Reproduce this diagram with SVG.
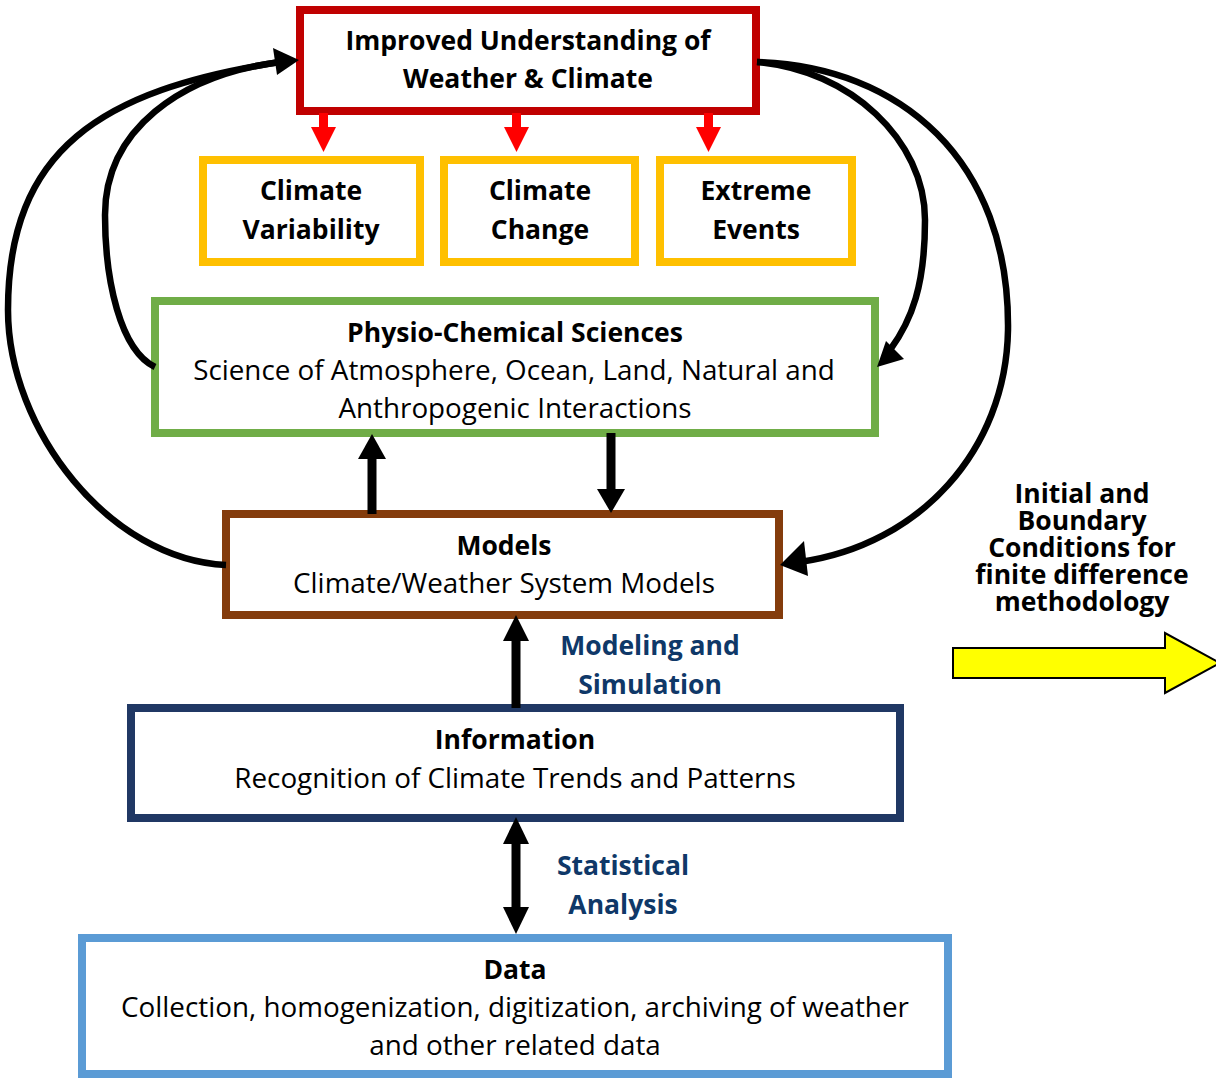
<svg xmlns="http://www.w3.org/2000/svg" width="1216" height="1079" viewBox="0 0 1216 1079">
<style>
text{font-family:"Open Sans",Lato,"DejaVu Sans",sans-serif;text-anchor:middle;fill:#000}
.t{font-size:27.8px}
.tb{font-size:26.5px;font-weight:bold}
.lbl{font-weight:bold;font-size:26.5px;fill:#0F3868}
.box{fill:#fff;stroke-width:8}
.curve{fill:none;stroke:#000;stroke-width:6.5}
.shaft{stroke:#000;stroke-width:9}
.side{font-weight:bold;font-size:26.5px}
</style>
<rect width="1216" height="1079" fill="#fff"/>

<g id="understanding">
<rect class="box" x="300" y="10" width="456" height="101" stroke="#C00000"/>
<text class="tb" x="528" y="50">Improved Understanding of</text>
<text class="tb" x="528" y="88">Weather &amp; Climate</text>
</g>

<g id="variability">
<rect class="box" x="203" y="160" width="217" height="102" stroke="#FFC000"/>
<text class="tb" x="311" y="200">Climate</text>
<text class="tb" x="311" y="239">Variability</text>
</g>
<g id="change">
<rect class="box" x="444" y="160" width="191" height="102" stroke="#FFC000"/>
<text class="tb" x="540" y="200">Climate</text>
<text class="tb" x="540" y="239">Change</text>
</g>
<g id="extreme">
<rect class="box" x="660" y="160" width="192" height="102" stroke="#FFC000"/>
<text class="tb" x="756" y="200">Extreme</text>
<text class="tb" x="756" y="239">Events</text>
</g>

<g id="physio">
<rect class="box" x="155" y="301" width="720" height="132" stroke="#70AD47"/>
<text class="tb" x="515" y="342">Physio-Chemical Sciences</text>
<text class="t" x="514" y="380">Science of Atmosphere, Ocean, Land, Natural and</text>
<text class="t" x="515" y="418">Anthropogenic Interactions</text>
</g>

<g id="models">
<rect class="box" x="226" y="514" width="553" height="101" stroke="#843C0C"/>
<text class="tb" x="504" y="555">Models</text>
<text class="t" x="504" y="593">Climate/Weather System Models</text>
</g>

<g id="information">
<rect class="box" x="131" y="708" width="769" height="110" stroke="#203864"/>
<text class="tb" x="515" y="749">Information</text>
<text class="t" x="515" y="788">Recognition of Climate Trends and Patterns</text>
</g>

<g id="data">
<rect class="box" x="82" y="938" width="866" height="136" stroke="#5B9BD5"/>
<text class="tb" x="515" y="979">Data</text>
<text class="t" x="515" y="1017">Collection, homogenization, digitization, archiving of weather</text>
<text class="t" x="515" y="1055">and other related data</text>
</g>

<g id="connectors">
<g fill="#FF0000" stroke="none">
<rect x="319" y="113" width="9" height="15"/>
<polygon points="311,127 336,127 323.5,152"/>
<rect x="512" y="113" width="9" height="15"/>
<polygon points="504,127 529,127 516.5,152"/>
<rect x="704" y="113" width="9" height="15"/>
<polygon points="696,127 721,127 708.5,152"/>
</g>
<path class="curve" d="M226,565 C110,560 8,430 8,310 C8,150 100,90 280,62"/>
<path class="curve" d="M155,367 C120,350 105,280 105,215 C105,130 180,75 280,62"/>
<polygon points="299,60 273,48 277,75" fill="#000"/>
<path class="curve" d="M757,62 C850,70 925,140 925,220 C925,285 912,320 890,350"/>
<polygon points="877,367 886,341 904,359" fill="#000"/>
<path class="curve" d="M757,62 C900,66 1010,160 1008,330 C1006,450 920,545 800,562"/>
<polygon points="780,565 804,541 808,576" fill="#000"/>
<line class="shaft" x1="372" y1="514" x2="372" y2="455"/>
<polygon points="372,434 358,459 386,459" fill="#000"/>
<line class="shaft" x1="611" y1="433" x2="611" y2="492"/>
<polygon points="611,513 597,489 625,489" fill="#000"/>
<line class="shaft" x1="516" y1="708" x2="516" y2="638"/>
<polygon points="516,615 503,641 529,641" fill="#000"/>
<line class="shaft" x1="516" y1="840" x2="516" y2="910"/>
<polygon points="516,817 503,844 529,844" fill="#000"/>
<polygon points="516,934 503,907 529,907" fill="#000"/>
</g>

<g id="labels">
<text class="lbl" x="650" y="655">Modeling and</text>
<text class="lbl" x="650" y="694">Simulation</text>
<text class="lbl" x="623" y="875">Statistical</text>
<text class="lbl" x="623" y="914">Analysis</text>
</g>

<g id="boundary">
<text class="side" x="1082" y="503">Initial and</text>
<text class="side" x="1082" y="530">Boundary</text>
<text class="side" x="1082" y="557">Conditions for</text>
<text class="side" x="1082" y="584">finite difference</text>
<text class="side" x="1082" y="611">methodology</text>
<polygon points="953,648 1165,648 1165,633 1220,663 1165,693 1165,678 953,678" fill="#FFFF00" stroke="#000" stroke-width="2"/>
</g>
</svg>
